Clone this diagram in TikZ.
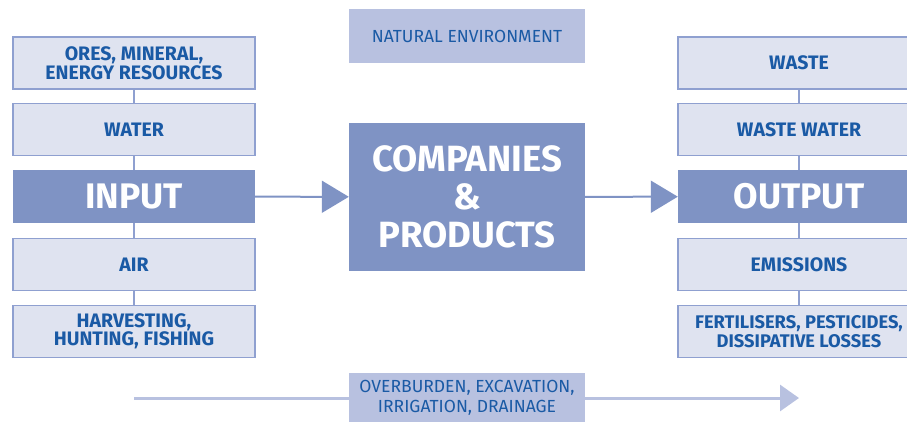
\documentclass[tikz,border=0pt]{standalone}
\usepackage{fontspec}
\setmainfont{Fira Sans}
\usetikzlibrary{arrows.meta,positioning}
\definecolor{boxdark}{HTML}{7F93C4}
\definecolor{boxlight}{HTML}{DFE3F0}
\definecolor{boxedge}{HTML}{8FA0D0}
\definecolor{boxpale}{HTML}{B8C1E0}
\definecolor{labelblue}{HTML}{1A5AA5}

\begin{document}
\begin{tikzpicture}[x=1pt, y=-1pt,
    resource/.style={draw=boxedge, line width=1.5pt, fill=boxlight, text=labelblue,
        minimum width=242pt, minimum height=52pt, inner sep=0pt, align=center,
        font=\bfseries\fontsize{19.5}{18.5}\selectfont},
    flowbox/.style={fill=boxdark, text=white, minimum width=242pt, minimum height=53pt,
        inner sep=0pt, align=center, font=\bfseries\fontsize{35.5}{38}\selectfont},
    envbox/.style={fill=boxpale, text=labelblue, minimum width=236pt, inner sep=0pt,
        align=center, font=\fontsize{17.5}{20}\selectfont},
    link/.style={boxedge, line width=1.5pt},
    mainarrow/.style={boxdark, line width=2pt, -{Triangle[length=27pt,width=32pt]}},
    flowarrow/.style={boxpale, line width=3pt, -{Triangle[length=19pt,width=26pt]}}]
    \clip (0,0) rectangle (907,422);

    % Input side
    \node[resource] (ores) at (134,63) {ORES, MINERAL,\\ENERGY RESOURCES};
    \node[resource] (water) at (134,129.5) {WATER};
    \node[flowbox] (input) at (134,196.5) {INPUT};
    \node[resource] (air) at (134,264.5) {AIR};
    \node[resource] (harvest) at (134,331.5) {HARVESTING,\\HUNTING, FISHING};

    % Output side
    \node[resource] (waste) at (799,63) {WASTE};
    \node[resource] (wastewater) at (799,129.5) {WASTE WATER};
    \node[flowbox] (output) at (799,196.5) {OUTPUT};
    \node[resource] (emissions) at (799,264.5) {EMISSIONS};
    \node[resource, font=\bfseries\fontsize{18.3}{18.5}\selectfont] (losses) at (799,331.5) {FERTILISERS, PESTICIDES,\\DISSIPATIVE LOSSES};

    % Middle column
    \node[envbox, minimum height=54pt] (nature) at (467,36) {NATURAL ENVIRONMENT};
    \node[flowbox, minimum width=236pt, minimum height=148pt,
        font=\bfseries\fontsize{36.5}{38}\selectfont] (companies) at (467,197) {COMPANIES\\\&\\PRODUCTS};

    % Links between stacked boxes
    \draw[link] (ores) -- (water);
    \draw[link] (water) -- (input);
    \draw[link] (input) -- (air);
    \draw[link] (air) -- (harvest);
    \draw[link] (waste) -- (wastewater);
    \draw[link] (wastewater) -- (output);
    \draw[link] (output) -- (emissions);
    \draw[link] (emissions) -- (losses);

    % Main flow
    \draw[mainarrow] (input) -- (companies);
    \draw[mainarrow] (companies) -- (output);

    % Bottom flow through the environment
    \coordinate (flowstart) at (134,398);
    \coordinate (flowend) at (799,398);
    \draw[flowarrow] (flowstart) -- (flowend);
    \node[envbox, minimum height=50pt] (overburden) at (467,398) {OVERBURDEN, EXCAVATION,\\IRRIGATION, DRAINAGE};
\end{tikzpicture}
\end{document}
